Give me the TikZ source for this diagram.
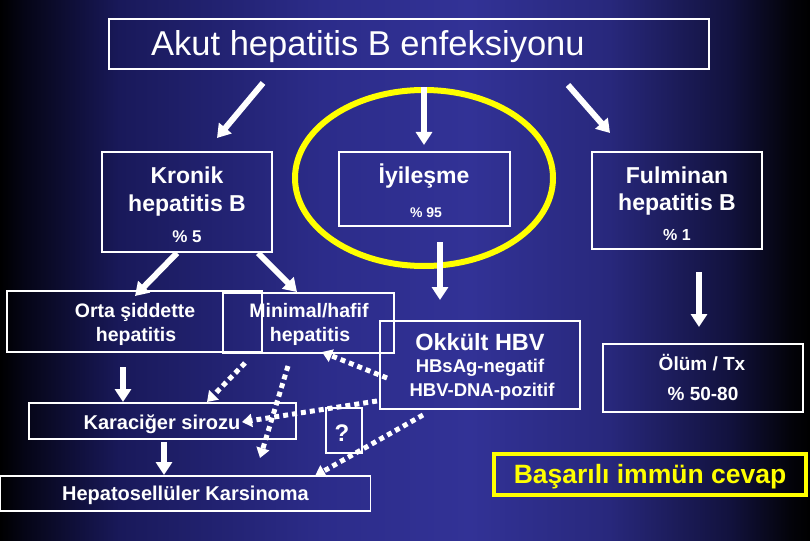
\documentclass[tikz,border=0pt]{standalone}
\usepackage{fontspec}
\setmainfont{Liberation Sans}
\usetikzlibrary{arrows.meta,shapes.geometric}
\newcommand\myfs[1]{\fontsize{#1}{#1}\selectfont}
\definecolor{bgA}{RGB}{5,5,22}
\definecolor{bgB}{RGB}{25,25,90}
\definecolor{bgC}{RGB}{44,44,138}
\definecolor{bgD}{RGB}{50,50,150}
\definecolor{bgE}{RGB}{40,40,124}
\definecolor{bgF}{RGB}{18,18,62}
\definecolor{bgG}{RGB}{3,3,10}
\definecolor{hlyellow}{RGB}{255,255,0}
\pgfdeclarehorizontalshading{bgshade}{100bp}{color(0bp)=(black); color(25bp)=(black); color(26.5bp)=(bgA); color(32.4bp)=(bgB); color(45bp)=(bgC); color(54bp)=(bgD); color(62.6bp)=(bgE); color(70bp)=(bgF); color(73.8bp)=(bgG); color(75bp)=(black); color(100bp)=(black)}
\begin{document}
\begin{tikzpicture}[x=1pt,y=-1pt,
  boxw/.style={draw=white, line width=1.1pt, inner sep=0pt, rectangle},
  tx/.style={text=white, inner sep=0pt, anchor=base},
  solidarrow/.style={draw=white, line width=6pt, -{Triangle[width=16pt,length=13pt]}},
  dotarrow/.style={draw=white, line width=5pt, dash pattern=on 5pt off 4pt, -{Triangle[width=13pt,length=10pt]}}]

\fill[shading=bgshade] (0,0) rectangle (810,540);
\useasboundingbox (0,0) rectangle (810,540);

% boxes
\node[boxw, minimum width=600pt, minimum height=50pt] (title) at (409,44) {};
\node[boxw, minimum width=170pt, minimum height=100pt] (kronik) at (187,202) {};
\node[boxw, minimum width=171pt, minimum height=74pt] (iyi) at (424.5,189) {};
\node[boxw, minimum width=170pt, minimum height=97pt] (fulm) at (677,200.5) {};
\node[boxw, minimum width=255pt, minimum height=61pt] (orta) at (134.5,321.5) {};
\node[boxw, minimum width=171pt, minimum height=60pt] (mini) at (308.5,323) {};
\node[boxw, minimum width=200pt, minimum height=88pt] (okk) at (480,365) {};
\node[boxw, minimum width=200pt, minimum height=68pt] (olum) at (703,378) {};
\node[boxw, minimum width=267pt, minimum height=36pt] (kara) at (162.5,421) {};
\node[boxw, minimum width=36pt, minimum height=45pt] (soru) at (344,430.5) {};
\node[boxw, minimum width=370pt, minimum height=35pt] (hcc) at (185.6,493.5) {};
\node[draw=hlyellow, line width=4pt, inner sep=0pt, rectangle, minimum width=312pt, minimum height=41pt] (basar) at (650,474.5) {};
\node[draw=hlyellow, line width=6pt, ellipse, inner sep=0pt, minimum width=258pt, minimum height=176pt] (halo) at (424,178) {};

% texts
\node[text=white, inner sep=0pt, anchor=base west, font=\myfs{34.5pt}] (titletx) at (151,56) {Akut hepatitis B enfeksiyonu};
\node[tx, font=\bfseries\myfs{23pt}] (kr1) at (187,183) {Kronik};
\node[tx, font=\bfseries\myfs{23pt}] (kr2) at (187,211) {hepatitis B};
\node[tx, font=\bfseries\myfs{17pt}] (kr3) at (187,242) {\% 5};
\node[tx, font=\bfseries\myfs{23pt}] (iy1) at (424,183) {İyileşme};
\node[tx, font=\bfseries\myfs{14pt}] (iy2) at (426,217) {\% 95};
\node[tx, font=\bfseries\myfs{23pt}] (fu1) at (677,183) {Fulminan};
\node[tx, font=\bfseries\myfs{23pt}] (fu2) at (677,210) {hepatitis B};
\node[tx, font=\bfseries\myfs{16pt}] (fu3) at (677,240) {\% 1};
\node[tx, font=\bfseries\myfs{19.5pt}] (or1) at (135,317) {Orta şiddette};
\node[tx, font=\bfseries\myfs{19.5pt}] (or2) at (136,341) {hepatitis};
\node[tx, font=\bfseries\myfs{19.5pt}] (mi1) at (309,317) {Minimal/hafif};
\node[tx, font=\bfseries\myfs{19.5pt}] (mi2) at (310,341) {hepatitis};
\node[tx, font=\bfseries\myfs{23.5pt}] (ok1) at (480,350) {Okkült HBV};
\node[tx, font=\bfseries\myfs{18.5pt}] (ok2) at (480,372) {HBsAg-negatif};
\node[tx, font=\bfseries\myfs{18.5pt}] (ok3) at (482,396) {HBV-DNA-pozitif};
\node[tx, font=\bfseries\myfs{19pt}] (ol1) at (702,370) {Ölüm / Tx};
\node[tx, font=\bfseries\myfs{19pt}] (ol2) at (703,400) {\% 50-80};
\node[tx, font=\bfseries\myfs{20pt}] (ka1) at (162,429) {Karaciğer sirozu};
\node[tx, font=\bfseries\myfs{20pt}] (hc1) at (185.5,500) {Hepatosellüler Karsinoma};
\node[tx, font=\bfseries\myfs{24pt}] (qq1) at (342,441) {?};
\node[tx, text=hlyellow, font=\bfseries\myfs{26.5pt}] (bs1) at (650,483) {Başarılı immün cevap};

% arrow end points
\coordinate (a1s) at (263,83);  \coordinate (a1e) at (217,138);
\coordinate (a2e) at (424,145);
\coordinate (a3s) at (568,85);  \coordinate (a3e) at (610,133);
\coordinate (a4s) at (177,253); \coordinate (a4e) at (135,296);
\coordinate (a5s) at (258,253); \coordinate (a5e) at (297,292);
\coordinate (a6s) at (440,242); \coordinate (a6e) at (440,300);
\coordinate (a7s) at (699,272); \coordinate (a7e) at (699,327);
\coordinate (a8s) at (123,367); \coordinate (a8e) at (123,402);
\coordinate (a9s) at (164,442); \coordinate (a9e) at (164,475);
\coordinate (d1s) at (245,363); \coordinate (d1e) at (207,402);
\coordinate (d2s) at (288,366); \coordinate (d2e) at (260,458);
\coordinate (d3s) at (387,378); \coordinate (d3e) at (322,352);
\coordinate (d4s) at (377,401); \coordinate (d4e) at (242,422);
\coordinate (d5s) at (423,415); \coordinate (d5e) at (315,476);

\draw[solidarrow] (a1s) -- (a1e);
\draw[solidarrow] (halo.north) -- (a2e);
\draw[solidarrow] (a3s) -- (a3e);
\draw[solidarrow] (a4s) -- (a4e);
\draw[solidarrow] (a5s) -- (a5e);
\draw[solidarrow] (a6s) -- (a6e);
\draw[solidarrow] (a7s) -- (a7e);
\draw[solidarrow] (a8s) -- (a8e);
\draw[solidarrow] (a9s) -- (a9e);

\draw[dotarrow] (d1s) -- (d1e);
\draw[dotarrow] (d2s) -- (d2e);
\draw[dotarrow] (d3s) -- (d3e);
\draw[dotarrow] (d4s) -- (d4e);
\draw[dotarrow] (d5s) -- (d5e);
\end{tikzpicture}
\end{document}
